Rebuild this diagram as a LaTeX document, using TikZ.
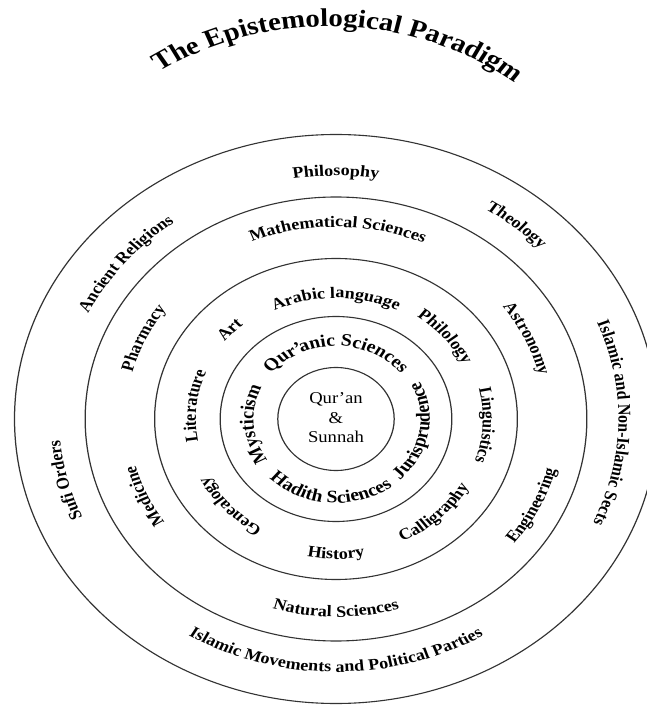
\documentclass[tikz,border=0pt]{standalone}
\usepackage{fontspec}
\setmainfont{Liberation Serif}
\usetikzlibrary{decorations.text}

\tikzset{
  ring/.style={draw=black!80, line width=1.1pt},
  corelabel/.style={align=center, font=\fontsize{16.5}{19.5}\selectfont, inner sep=0pt},
}
\newcommand{\titlefont}{\bfseries\fontsize{25.5}{25.5}\selectfont}
\newcommand{\innerfont}{\bfseries\fontsize{17.5}{17.5}\selectfont}
\newcommand{\ringfont}{\bfseries\fontsize{16}{16}\selectfont}

% text read clockwise, letter tops facing outward
% #1 middle angle, #2 baseline radius, #3 font, #4 text
\newcommand{\outlabel}[4]{%
  \path[decorate, decoration={text along path, text align=center, text={|#3|#4}}]
    ({#1+85}:#2) arc[start angle={#1+85}, end angle={#1-85}, radius=#2];}
% text read counter-clockwise, letter tops facing the centre
\newcommand{\inlabel}[4]{%
  \path[decorate, decoration={text along path, text align=center, text={|#3|#4}}]
    ({#1-85}:#2) arc[start angle={#1-85}, end angle={#1+85}, radius=#2];}

\begin{document}
\begin{tikzpicture}[x=1pt, y=1pt]
\useasboundingbox (-336,-287) rectangle (310,419);
\begin{scope}[transform canvas={xscale=1.13}]
  % title arched over the rings
  \path[decorate, decoration={text along path, text align=center,
      text={|\titlefont|The Epistemological Paradigm}}]
    (-6.3,123.9) ++(150:268.5) arc[start angle=150, end angle=26, radius=268.5];

  % concentric rings
  \draw[ring] (0,0) circle[radius=51.5];
  \draw[ring] (0,0) circle[radius=102.5];
  \draw[ring] (0,0) circle[radius=160.5];
  \draw[ring] (0,0) circle[radius=222];
  \draw[ring] (0,0) circle[radius=284.5];

  % core
  \node[corelabel] (core) at (0,1) {Qur'an\\\&\\Sunnah};

  % first ring
  \outlabel{90}{73}{\innerfont}{Qur{'\kern-2.5pt}anic Sciences}
  \outlabel{184}{73}{\innerfont}{Mysticism}
  \inlabel{266}{84}{\innerfont}{Hadith Sciences}
  \inlabel{-10}{83}{\innerfont}{Jurisprudence}

  % second ring
  \outlabel{90}{121}{\ringfont}{Arabic language}
  \outlabel{136.5}{125}{\ringfont}{Art}
  \outlabel{40.5}{125}{\ringfont}{Philology}
  \outlabel{174}{124}{\ringfont}{Literature}
  \outlabel{-2.7}{130}{\ringfont}{Linguistics}
  \outlabel{223}{127}{\ringfont}{Genealogy}
  \inlabel{270}{140}{\ringfont}{History}
  \inlabel{-47.2}{136}{\ringfont}{Calligraphy}

  % third ring
  \outlabel{89.5}{192}{\ringfont}{Mathematical Sciences}
  \outlabel{154.6}{186}{\ringfont}{Pharmacy}
  \outlabel{25.4}{185}{\ringfont}{Astronomy}
  \outlabel{204.5}{183.5}{\ringfont}{Medicine}
  \inlabel{-26.5}{201}{\ringfont}{Engineering}
  \inlabel{270}{198}{\ringfont}{Natural Sciences}

  % outer ring
  \outlabel{90}{243}{\ringfont}{Philosophy}
  \outlabel{140.2}{243}{\ringfont}{Ancient Religions}
  \outlabel{50.5}{248}{\ringfont}{Theology}
  \outlabel{-1}{250}{\ringfont}{Islamic and Non-Islamic Sects}
  \outlabel{194.4}{245}{\ringfont}{Sufi Orders}
  \inlabel{270}{253}{\ringfont}{Islamic Movements and Political Parties}
\end{scope}
\end{tikzpicture}
\end{document}
